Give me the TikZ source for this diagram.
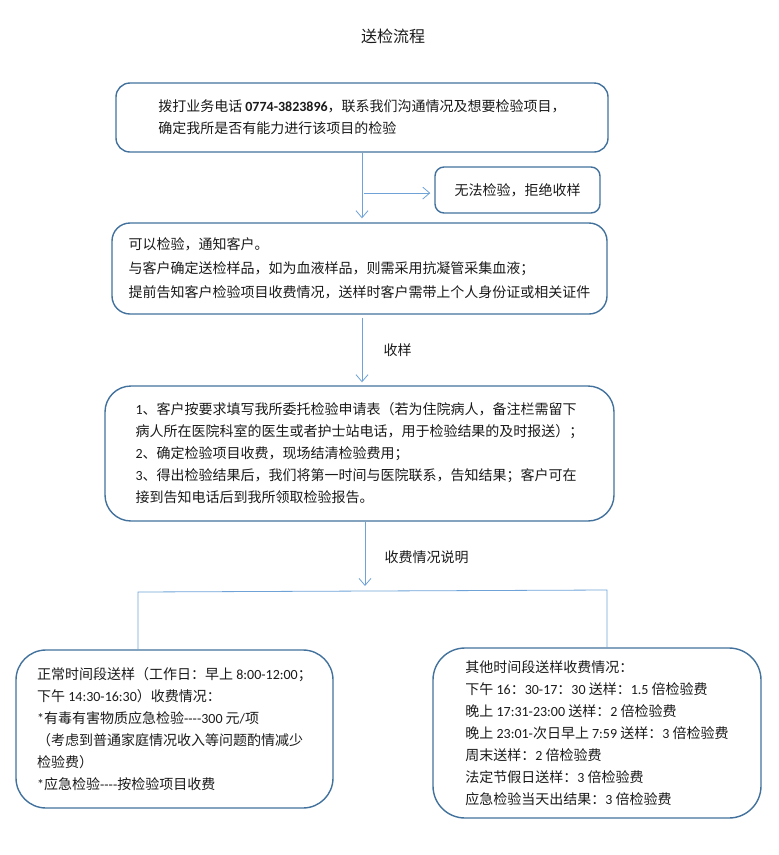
\documentclass[tikz,border=0pt]{standalone}
\usepackage{fontspec}
\setmainfont{Noto Sans CJK SC}
\newfontfamily\numfont{Carlito}
\newcommand\nf[1]{{\numfont #1}}
\usetikzlibrary{arrows.meta,calc,positioning}
\definecolor{cborder}{HTML}{41719C}
\definecolor{carrow}{HTML}{6FA3D8}
\definecolor{ctext}{HTML}{1A1A1A}

\begin{document}
\begin{tikzpicture}[x=1pt,y=-1pt,
  box/.style={draw=cborder, line width=1.4pt, align=left, inner sep=0pt, text=ctext, font=\fontsize{14}{22}\selectfont},
  lbl/.style={font=\fontsize{14}{16}\selectfont, text=ctext},
  arr/.style={-{Straight Barb[length=7pt, width=12pt]}, line width=0.8pt, draw=carrow},
  conn/.style={line width=0.8pt, draw=carrow}]

\useasboundingbox (0,0) rectangle (779,855);
\node[lbl, font=\fontsize{16}{18}\selectfont] (title) at (393,36) {送检流程};
\node[box, rounded corners=14pt, minimum width=492pt, minimum height=69pt] (call) at (362,117.5) {拨打业务电话 \nf{\textbf{0774-3823896}}，联系我们沟通情况及想要检验项目，\\确定我所是否有能力进行该项目的检验};
\node[box, rounded corners=9pt, minimum width=165pt, minimum height=46pt] (nogo) at (517.5,190) {无法检验，拒绝收样};
\node[box, rounded corners=18pt, minimum width=495pt, minimum height=91pt, font=\fontsize{14}{24}\selectfont] (notify) at (359.5,268.5) {可以检验，通知客户。\\与客户确定送检样品，如为血液样品，则需采用抗凝管采集血液；\\提前告知客户检验项目收费情况，送样时客户需带上个人身份证或相关证件};
\node[box, rounded corners=26pt, minimum width=509pt, minimum height=135pt] (steps) at (359.5,453.5) {\nf{1}、客户按要求填写我所委托检验申请表（若为住院病人，备注栏需留下\\病人所在医院科室的医生或者护士站电话，用于检验结果的及时报送）；\\\nf{2}、确定检验项目收费，现场结清检验费用；\\\nf{3}、得出检验结果后，我们将第一时间与医院联系，告知结果；客户可在\\接到告知电话后到我所领取检验报告。};
\node[box, rounded corners=30pt, minimum width=317pt, minimum height=158pt] (normal) at (174.5,729) {正常时间段送样（工作日：早上 \nf{8:00-12:00}；\\下午 \nf{14:30-16:30}）收费情况：\\\nf{*}有毒有害物质应急检验\nf{----300} 元\nf{/}项\\（考虑到普通家庭情况收入等问题酌情减少\\检验费）\\\nf{*}应急检验\nf{----}按检验项目收费};
\node[box, rounded corners=32pt, minimum width=328pt, minimum height=170pt] (other) at (597,733) {其他时间段送样收费情况：\\下午 \nf{16}：\nf{30-17}：\nf{30} 送样：\nf{1.5} 倍检验费\\晚上 \nf{17:31-23:00} 送样：\nf{2} 倍检验费\\晚上 \nf{23:01-}次日早上 \nf{7:59} 送样：\nf{3} 倍检验费\\周末送样：\nf{2} 倍检验费\\法定节假日送样：\nf{3} 倍检验费\\应急检验当天出结果：\nf{3} 倍检验费};
\coordinate (fork) at ($(call.south)!0.58!(notify.north -| call.south)$);
\coordinate (split) at (365,592);
\coordinate (barl) at (138,592);
\coordinate (barr) at (607,590);

\draw[arr, shorten >=4pt] (call.south) -- (notify.north -| call.south);
\draw[arr, shorten >=4pt] ([xshift=2pt]fork) -- (fork -| nogo.west);
\draw[arr, shorten <=3pt, shorten >=3pt] (notify.south -| call.south) -- node[right=18pt, lbl] {收样} (steps.north -| call.south);
\draw[arr, shorten >=6pt] (steps.south -| split) -- node[right=16pt, lbl] {收费情况说明} (split);
\draw[conn] (normal.north -| barl) -- (barl) -- (barr) -- (other.north -| barr);
\end{tikzpicture}
\end{document}
